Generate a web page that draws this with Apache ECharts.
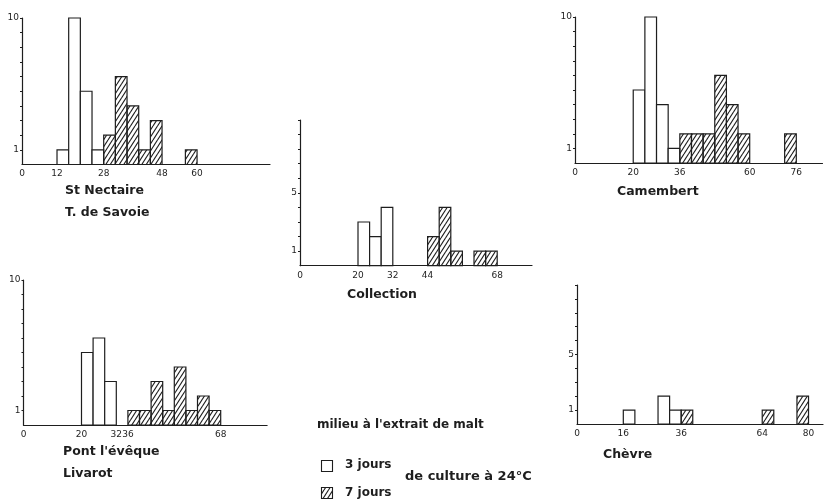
<!DOCTYPE html>
<html>
<head>
<meta charset="utf-8">
<script src="https://cdn.jsdelivr.net/npm/echarts@6/dist/echarts.min.js"></script>
<style>
html,body{margin:0;padding:0;background:#fff;}
#main{width:825px;height:500px;}
</style>
</head>
<body>
<div id="main"></div>
<script>
// ---- data: [bin start, count]; bins are 4 units wide ----
const binWidth = 4;
const stNectaire3 = [[12,1],[16,10],[20,5],[24,1]];
const stNectaire7 = [[28,2],[32,6],[36,4],[40,1],[44,3],[56,1]];
const collection3 = [[20,3],[24,2],[28,4]];
const collection7 = [[44,2],[48,4],[52,1],[60,1],[64,1]];
const camembert3 = [[20,5],[24,10],[28,4],[32,1]];
const camembert7 = [[36,2],[40,2],[44,2],[48,6],[52,4],[56,2],[72,2]];
const pont3 = [[20,5],[24,6],[28,3]];
const pont7 = [[36,1],[40,1],[44,3],[48,1],[52,4],[56,1],[60,2],[64,1]];
const chevre3 = [[16,1],[28,2],[32,1]];
const chevre7 = [[36,1],[64,1],[76,2]];

// tick labels
const xLabelsStNectaire = [0,12,28,48,60];
const xLabelsCollection = [0,20,32,44,68];
const xLabelsCamembert = [0,20,36,60,76];
const xLabelsPont = [0,20,32,36,68];
const xLabelsChevre = [0,16,36,64,80];
const yLabelsA = [1,10];
const yLabelsB = [1,5];

const INK = '#1e1e1e';
const NUMFONT = "'DejaVu Sans', sans-serif";
const BOLDFONT = "'DejaVu Sans', sans-serif";

function makeHatch(){
  const w = 9, h = 14;
  const c = document.createElement('canvas');
  c.width = w; c.height = h;
  const g = c.getContext('2d');
  g.strokeStyle = INK; g.lineWidth = 1.15;
  for (const dx of [-9, -4.5, 0, 4.5, 9]) {
    g.beginPath(); g.moveTo(dx, h); g.lineTo(dx + w, 0); g.stroke();
  }
  return c;
}
const hatch = {image: makeHatch(), repeat: 'repeat'};

const panels = [
  {grid:{left:22, top:18, width:248, height:146.5}, xmax:85, xl:xLabelsStNectaire, yl:yLabelsA, d3:stNectaire3, d7:stNectaire7},
  {grid:{left:300, top:120, width:232, height:145.7}, xmax:80, xl:xLabelsCollection, yl:yLabelsB, d3:collection3, d7:collection7},
  {grid:{left:575, top:17, width:247.5, height:146}, xmax:85, xl:xLabelsCamembert, yl:yLabelsA, d3:camembert3, d7:camembert7},
  {grid:{left:23.5, top:280, width:243.6, height:145}, xmax:84, xl:xLabelsPont, yl:yLabelsA, d3:pont3, d7:pont7},
  {grid:{left:577, top:285, width:246, height:139}, xmax:85, xl:xLabelsChevre, yl:yLabelsB, d3:chevre3, d7:chevre7}
];

function renderItem(params, api){
  const x0 = api.value(0), n = api.value(1);
  const p0 = api.coord([x0, 0]);
  const p1 = api.coord([x0 + binWidth, n]);
  const hatched = params.seriesName === '7 jours';
  return {
    type: 'rect',
    shape: {x: p0[0], y: p1[1], width: p1[0] - p0[0], height: p0[1] - p1[1]},
    style: {fill: hatched ? hatch : '#fff', stroke: INK, lineWidth: 1.2}
  };
}

const grid = [], xAxis = [], yAxis = [], series = [];
panels.forEach((p, i) => {
  grid.push(Object.assign({containLabel:false}, p.grid));
  xAxis.push({
    type:'value', gridIndex:i, min:0, max:p.xmax, interval:4,
    axisLine:{show:true, onZero:false, lineStyle:{color:INK, width:1.2}},
    axisTick:{show:false}, splitLine:{show:false},
    axisLabel:{show:true, margin:5, color:INK, fontSize:9, fontFamily:NUMFONT,
      showMaxLabel:false,
      formatter: v => p.xl.indexOf(v) >= 0 ? String(v) : ''}
  });
  yAxis.push({
    type:'value', gridIndex:i, min:0, max:10, interval:1,
    axisLine:{show:true, lineStyle:{color:INK, width:1.2}},
    axisTick:{show:true, length:2, inside:false, lineStyle:{color:INK, width:1}},
    splitLine:{show:false},
    axisLabel:{show:true, margin:3, color:INK, fontSize:9, fontFamily:NUMFONT, showMinLabel:false,
      formatter: v => p.yl.indexOf(v) >= 0 ? String(v) : ''}
  });
  series.push({type:'custom', name:'3 jours', xAxisIndex:i, yAxisIndex:i, renderItem, data:p.d3, silent:true});
  series.push({type:'custom', name:'7 jours', xAxisIndex:i, yAxisIndex:i, renderItem, data:p.d7, silent:true});
});

function label(text, x, y, size){
  return {type:'text', x:x, y:y, silent:true,
    style:{text:text, fill:INK, font:'bold ' + (size||12.5) + 'px ' + BOLDFONT, verticalAlign:'middle', align:'left'}};
}

const graphic = [
  label('St Nectaire', 65, 191),
  label('T. de Savoie', 65, 213),
  label('Collection', 347, 295),
  label('Camembert', 617, 192),
  label("Pont l'évêque", 63, 452),
  label('Livarot', 63, 474),
  label('Chèvre', 603, 455),
  label("milieu à l'extrait de malt", 317, 425, 12),
  {type:'rect', silent:true, shape:{x:321.5, y:460.5, width:11, height:11}, style:{fill:'#fff', stroke:INK, lineWidth:1.1}},
  label('3 jours', 345, 465, 12),
  label('de culture à 24°C', 405, 477, 13),
  {type:'rect', silent:true, shape:{x:321.5, y:487.5, width:11, height:11}, style:{fill:hatch, stroke:INK, lineWidth:1.1}},
  label('7 jours', 345, 493, 12)
];

const chart = echarts.init(document.getElementById('main'), null, {renderer:'canvas'});
chart.setOption({
  backgroundColor:'#fff',
  animation:false,
  grid, xAxis, yAxis, series, graphic
});
</script>
</body>
</html>
